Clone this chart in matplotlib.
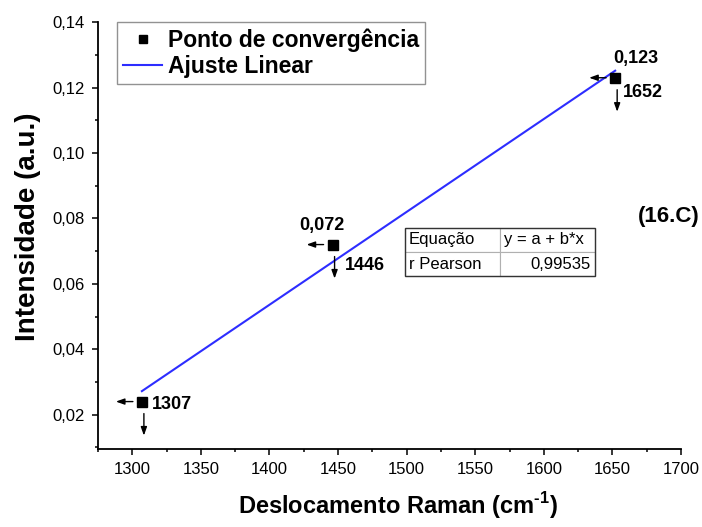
import numpy as np
import matplotlib.pyplot as plt
from matplotlib.ticker import MultipleLocator, FuncFormatter
from matplotlib.transforms import offset_copy

plt.rcParams['font.family'] = ['Liberation Sans', 'DejaVu Sans']
plt.rcParams['mathtext.fontset'] = 'custom'
plt.rcParams['mathtext.rm'] = 'Liberation Sans'
plt.rcParams['mathtext.bf'] = 'Liberation Sans:bold'

# dados
raman_shift = [1307, 1446, 1652]
intensity = [0.024, 0.072, 0.123]
value_labels = ['', '0,072', '0,123']
shift_labels = ['1307', '1446', '1652']
table_rows = [['Equação', 'y = a + b*x'], ['r Pearson', '0,99535']]

# deslocamento dos rótulos (pixels) em relação a cada ponto
shift_offsets = [(10, -3), (12, -21), (8, -15)]
value_offsets = [(0, 0), (-11, 19), (21, 19)]


def comma(fmt):
    return FuncFormatter(lambda v, pos: fmt.format(v).replace('.', ','))


def shifted(ax, fig, dx, dy):
    return offset_copy(ax.transData, fig=fig, x=dx, y=dy, units='dots')


def main():
    fig = plt.figure(figsize=(7.02, 5.27), dpi=100)
    ax = fig.add_axes([0.1396, 0.148, 0.8305, 0.810])

    b, a = np.polyfit(raman_shift, intensity, 1)
    xs = np.array([raman_shift[0], raman_shift[-1]])
    ax.plot(raman_shift, intensity, 's', color='black', ms=6.5,
            label='Ponto de convergência', zorder=3)
    ax.plot(xs, a + b * xs, color='#2d2dff', lw=1.5, label='Ajuste Linear')

    arrow = dict(arrowstyle='-|>,head_length=0.5,head_width=0.18', color='black',
                 lw=1.0, mutation_scale=10, shrinkA=0, shrinkB=0)
    for i, (x, y) in enumerate(zip(raman_shift, intensity)):
        # seta horizontal (para a esquerda) e vertical (para baixo)
        ax.annotate('', xy=(x, y), xycoords=shifted(ax, fig, -26, 0),
                    xytext=(x, y), textcoords=shifted(ax, fig, -9, 0),
                    arrowprops=arrow)
        ax.annotate('', xy=(x, y), xycoords=shifted(ax, fig, 2, -34),
                    xytext=(x, y), textcoords=shifted(ax, fig, 2, -12),
                    arrowprops=arrow)
        dx, dy = shift_offsets[i]
        ax.annotate(shift_labels[i], xy=(x, y), xytext=(dx * 0.72, dy * 0.72),
                    textcoords='offset points', fontsize=13, fontweight='bold',
                    va='center', ha='left')
        if value_labels[i]:
            dx, dy = value_offsets[i]
            ax.annotate(value_labels[i], xy=(x, y), xytext=(dx * 0.72, dy * 0.72),
                        textcoords='offset points', fontsize=13, fontweight='bold',
                        va='center', ha='center')

    ax.set_xlim(1275, 1700)
    ax.set_ylim(0.0095, 0.14)
    ax.xaxis.set_major_locator(MultipleLocator(50))
    ax.xaxis.set_minor_locator(MultipleLocator(25))
    ax.yaxis.set_major_locator(MultipleLocator(0.02))
    ax.yaxis.set_minor_locator(MultipleLocator(0.01))
    ax.xaxis.set_major_formatter(comma('{:.0f}'))
    ax.yaxis.set_major_formatter(comma('{:.2f}'))
    ax.tick_params(which='major', length=4.5, width=1.1, labelsize=12,
                   direction='out', pad=5)
    ax.tick_params(which='minor', length=2.5, width=1.1, direction='out')
    for s in ['top', 'right']:
        ax.spines[s].set_visible(False)
    for s in ['left', 'bottom']:
        ax.spines[s].set_linewidth(1.3)

    ax.set_xlabel('Deslocamento Raman (cm$^{\\mathbf{\u2010}\\mathbf{1}}$)',
                  fontsize=17, fontweight='bold', va='center')
    ax.xaxis.set_label_coords(0.515, -0.133)
    ax.set_ylabel('Intensidade (a.u.)', fontsize=20, fontweight='bold', va='center')
    ax.yaxis.set_label_coords(-0.12, 0.52)

    leg = ax.legend(loc='upper left', bbox_to_anchor=(0.033, 1.0), fancybox=False,
                    edgecolor='#777777', prop={'weight': 'bold', 'size': 16.5},
                    handlelength=1.7, handletextpad=0.25, borderpad=0.27,
                    labelspacing=0.15, borderaxespad=0, markerscale=0.85)
    leg.get_frame().set_linewidth(1.0)

    tbl = ax.table(cellText=table_rows, cellLoc='left',
                   bbox=[0.527, 0.405, 0.325, 0.113])
    tbl.auto_set_font_size(False)
    tbl.set_fontsize(12)
    for (r, c), cell in tbl.get_celld().items():
        cell.set_edgecolor('#b0b0b0')
        cell.set_linewidth(0.8)
        cell.PAD = 0.04
        if (r, c) == (1, 1):
            cell._loc = 'right'
            cell.get_text().set_horizontalalignment('right')
    ax.add_patch(plt.Rectangle((0.527, 0.405), 0.325, 0.113, transform=ax.transAxes,
                               fill=False, edgecolor='#333333', lw=1.0, zorder=5))

    fig.text(0.952, 0.59, '(16.C)', fontsize=16, fontweight='bold', ha='center',
             va='center')

    fig.savefig('out.png', dpi=100)


if __name__ == "__main__":
    main()
